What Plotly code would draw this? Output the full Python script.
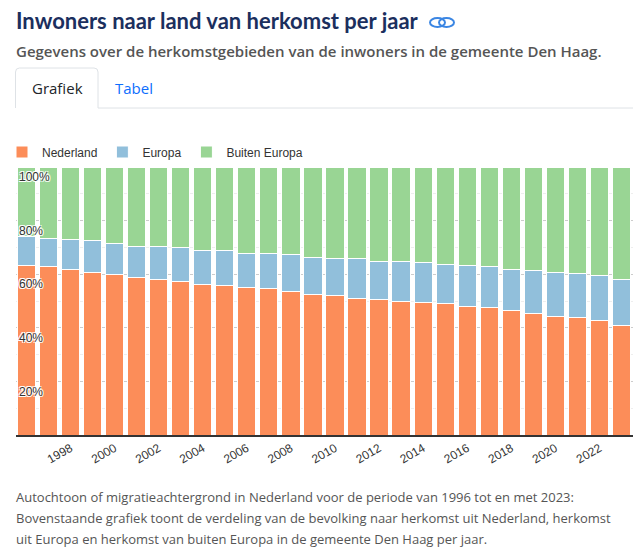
import plotly.graph_objects as go

years = list(range(1996, 2024))
nederland = [63.4, 62.7, 61.6, 60.7, 59.9, 58.6, 58.2, 57.1, 56.3, 55.6,
             54.9, 54.5, 53.7, 52.6, 51.9, 51.1, 50.4, 50.0, 49.6, 48.9,
             48.1, 47.4, 46.3, 45.5, 44.4, 44.0, 42.9, 41.0]
europa = [10.7, 10.8, 11.2, 11.7, 11.7, 11.9, 12.3, 12.7, 12.7, 13.1,
          13.0, 13.4, 13.5, 13.8, 14.0, 14.6, 14.5, 14.6, 14.6, 14.9,
          15.0, 15.3, 15.6, 15.7, 16.4, 16.4, 16.8, 17.2]
buiten_europa = [25.9, 26.5, 27.2, 27.6, 28.4, 29.5, 29.5, 30.2, 31.0, 31.3,
                 32.1, 32.1, 32.8, 33.6, 34.1, 34.3, 35.1, 35.4, 35.8, 36.2,
                 36.9, 37.3, 38.1, 38.8, 39.2, 39.6, 40.3, 41.8]
series_names = ["Nederland", "Europa", "Buiten Europa"]
series_colors = ["#fc8d59", "#91bfdb", "#99d594"]
x_tick_years = list(range(1996, 2024, 2))
y_tick_vals = [20, 40, 60, 80, 100]
y_tick_text = ["20%", "40%", "60%", "80%", "100%"]
y_minor_vals = [10, 30, 50, 70, 90]

FIG_W, FIG_H = 644, 558
L, T, W, H = 16, 167, 617, 268


def px(x):
    return (x - L) / W


def py(y):
    return (T + H - y) / H


fig = go.Figure()
for name, vals, col in zip(series_names, [nederland, europa, buiten_europa], series_colors):
    fig.add_trace(go.Bar(
        x=years, y=vals, name=name,
        marker=dict(color=col, line=dict(color="white", width=1)),
        hovertemplate="%{x}: %{y:.1f}%<extra>" + name + "</extra>",
    ))

page_font = "Open Sans, Noto Sans, sans-serif"
title_font = "Lato, Open Sans, sans-serif"
chart_font = "Liberation Sans, Arial, sans-serif"


def ann(text, x, y, size, color, xanchor="left", weight="normal", family=page_font):
    return dict(text=text, x=px(x), y=py(y), xref="paper", yref="paper",
                xanchor=xanchor, yanchor="middle", showarrow=False,
                font=dict(family=family, size=size, color=color, weight=weight))


annotations = [
    ann("Inwoners naar land van herkomst per jaar", 14, 20, 22, "#1b2f5e", weight=700,
        family=title_font),
    ann("Gegevens over de herkomstgebieden van de inwoners in de gemeente Den Haag.",
        14, 51, 15, "#555555", weight=600),
    ann("Grafiek", 57, 88, 15, "#212529", xanchor="center"),
    ann("Tabel", 134, 88, 15, "#0d6efd", xanchor="center"),
    ann("Autochtoon of migratieachtergrond in Nederland voor de periode van 1996 tot en met 2023:",
        14, 497, 13, "#555555"),
    ann("Bovenstaande grafiek toont de verdeling van de bevolking naar herkomst uit Nederland, herkomst",
        14, 518, 13, "#555555"),
    ann("uit Europa en herkomst van buiten Europa in de gemeente Den Haag per jaar.",
        14, 539, 13, "#555555"),
]

tab_path = "M {a} {b} L {a} {c} Q {a} {d} {e} {d} L {f} {d} Q {g} {d} {g} {c} L {g} {b}".format(
    a=px(15.5), b=py(108), c=py(72), d=py(68), e=px(19.5), f=px(94), g=px(98))

shapes = [
    dict(type="path", xref="paper", yref="paper", path=tab_path,
         line=dict(color="#dee2e6", width=1)),
    dict(type="line", xref="paper", yref="paper", x0=px(98), x1=px(633), y0=py(108), y1=py(108),
         line=dict(color="#dee2e6", width=1)),
    dict(type="circle", xref="paper", yref="paper", x0=px(430), x1=px(445), y0=py(27), y1=py(18),
         line=dict(color="#3b86e3", width=2)),
    dict(type="circle", xref="paper", yref="paper", x0=px(439), x1=px(454), y0=py(27), y1=py(18),
         line=dict(color="#3b86e3", width=2)),
]

fig.update_layout(
    barmode="stack",
    bargap=0.17,
    width=FIG_W, height=FIG_H,
    margin=dict(l=L, r=FIG_W - L - W, t=T, b=FIG_H - T - H, autoexpand=False),
    paper_bgcolor="white", plot_bgcolor="white",
    font=dict(family=chart_font, size=12, color="#333333"),
    showlegend=True,
    legend=dict(orientation="h", x=px(2), y=py(152), xanchor="left", yanchor="middle",
                font=dict(family=chart_font, size=12, color="#333333"),
                traceorder="normal", bgcolor="rgba(0,0,0,0)"),
    annotations=annotations,
    shapes=shapes,
    xaxis=dict(range=[1995.53, 2023.52], tickmode="array", tickvals=x_tick_years,
               tickangle=-30, showgrid=False, showline=True, linecolor="#333333", linewidth=1.5,
               ticks="", tickfont=dict(family=chart_font, size=12, color="#333333"),
               zeroline=False, fixedrange=True),
    yaxis=dict(range=[0, 100], tickmode="array", tickvals=y_tick_vals, ticktext=y_tick_text,
               showgrid=True, gridcolor="#cccccc", gridwidth=1, zeroline=False,
               ticklabelposition="inside", ticklabelshift=10,
               showline=False, ticks="",
               tickfont=dict(family=chart_font, size=12, color="#333333",
                             shadow="-1px -1px 0 #fff, 1px -1px 0 #fff, -1px 1px 0 #fff, 1px 1px 0 #fff"),
               minor=dict(tickvals=y_minor_vals, showgrid=True, gridcolor="#eeeeee"),
               layer="above traces", fixedrange=True),
)

fig.write_html("out.html", config={"displayModeBar": False},
               post_script="document.body.style.margin='0';document.body.style.overflow='hidden';")
